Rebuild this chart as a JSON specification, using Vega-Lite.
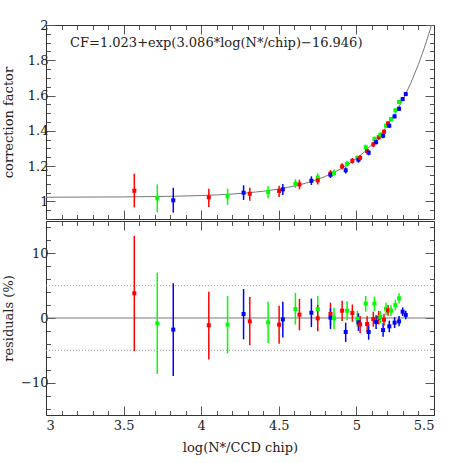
{
  "$schema": "https://vega.github.io/schema/vega-lite/v6.json",
  "padding": {"left": 2, "top": 19, "right": 5, "bottom": 5},
  "config": {
    "view": {"stroke": null},
    "font": "DejaVu Serif",
    "axis": {
      "grid": false,
      "domainColor": "#333",
      "tickColor": "#555",
      "labelFont": "DejaVu Serif",
      "labelFontSize": 13,
      "labelColor": "#222",
      "titleFont": "DejaVu Serif",
      "titleFontSize": 13,
      "titleFontWeight": "normal",
      "titleColor": "#222"
    }
  },
  "datasets": {
    "pts": [
      {"x": 3.569, "c": "r", "cf": 1.060, "cfLo": 0.966, "cfHi": 1.157, "res": 3.81, "resLo": -5.10, "resHi": 12.70},
      {"x": 3.717, "c": "g", "cf": 1.017, "cfLo": 0.938, "cfHi": 1.096, "res": -0.82, "resLo": -8.66, "resHi": 7.00},
      {"x": 3.820, "c": "b", "cf": 1.006, "cfLo": 0.936, "cfHi": 1.077, "res": -1.80, "resLo": -8.97, "resHi": 5.36},
      {"x": 4.049, "c": "r", "cf": 1.023, "cfLo": 0.968, "cfHi": 1.072, "res": -1.13, "resLo": -6.40, "resHi": 4.07},
      {"x": 4.170, "c": "g", "cf": 1.028, "cfLo": 0.981, "cfHi": 1.072, "res": -1.03, "resLo": -5.46, "resHi": 3.40},
      {"x": 4.273, "c": "b", "cf": 1.049, "cfLo": 1.008, "cfHi": 1.091, "res": 0.62, "resLo": -3.30, "resHi": 4.48},
      {"x": 4.313, "c": "r", "cf": 1.043, "cfLo": 1.004, "cfHi": 1.077, "res": -0.52, "resLo": -4.20, "resHi": 3.25},
      {"x": 4.431, "c": "g", "cf": 1.053, "cfLo": 1.017, "cfHi": 1.085, "res": -0.67, "resLo": -3.90, "resHi": 2.50},
      {"x": 4.502, "c": "r", "cf": 1.059, "cfLo": 1.025, "cfHi": 1.089, "res": -1.03, "resLo": -4.00, "resHi": 1.90},
      {"x": 4.526, "c": "b", "cf": 1.068, "cfLo": 1.036, "cfHi": 1.098, "res": -0.21, "resLo": -3.00, "resHi": 2.50},
      {"x": 4.607, "c": "g", "cf": 1.100, "cfLo": 1.076, "cfHi": 1.125, "res": 1.39, "resLo": -1.03, "resHi": 3.87},
      {"x": 4.633, "c": "r", "cf": 1.096, "cfLo": 1.068, "cfHi": 1.123, "res": 0.52, "resLo": -1.90, "resHi": 2.94},
      {"x": 4.710, "c": "b", "cf": 1.117, "cfLo": 1.093, "cfHi": 1.142, "res": 0.82, "resLo": -1.40, "resHi": 3.00},
      {"x": 4.751, "c": "g", "cf": 1.136, "cfLo": 1.111, "cfHi": 1.159, "res": 1.39, "resLo": -0.57, "resHi": 3.40},
      {"x": 4.751, "c": "r", "cf": 1.119, "cfLo": 1.096, "cfHi": 1.142, "res": -0.05, "resLo": -2.06, "resHi": 2.00},
      {"x": 4.833, "c": "r", "cf": 1.157, "cfLo": 1.137, "cfHi": 1.177, "res": 0.62, "resLo": -1.13, "resHi": 2.37},
      {"x": 4.833, "c": "b", "cf": 1.151, "cfLo": 1.133, "cfHi": 1.170, "res": 0.05, "resLo": -1.70, "resHi": 1.50},
      {"x": 4.856, "c": "g", "cf": 1.161, "cfLo": 1.142, "cfHi": 1.180, "res": -0.05, "resLo": -1.75, "resHi": 1.60},
      {"x": 4.908, "c": "r", "cf": 1.198, "cfLo": 1.180, "cfHi": 1.216, "res": 1.13, "resLo": -0.46, "resHi": 2.68},
      {"x": 4.931, "c": "b", "cf": 1.176, "cfLo": 1.158, "cfHi": 1.193, "res": -2.16, "resLo": -3.70, "resHi": -0.72},
      {"x": 4.940, "c": "g", "cf": 1.213, "cfLo": 1.196, "cfHi": 1.230, "res": 1.13, "resLo": -0.36, "resHi": 2.58},
      {"x": 4.974, "c": "r", "cf": 1.230, "cfLo": 1.214, "cfHi": 1.246, "res": 0.77, "resLo": -0.57, "resHi": 2.10},
      {"x": 5.006, "c": "g", "cf": 1.246, "cfLo": 1.230, "cfHi": 1.261, "res": -0.10, "resLo": -1.34, "resHi": 1.13},
      {"x": 5.013, "c": "b", "cf": 1.236, "cfLo": 1.219, "cfHi": 1.253, "res": -0.67, "resLo": -2.00, "resHi": 0.72},
      {"x": 5.024, "c": "r", "cf": 1.247, "cfLo": 1.231, "cfHi": 1.263, "res": -0.98, "resLo": -2.37, "resHi": 0.31},
      {"x": 5.060, "c": "g", "cf": 1.306, "cfLo": 1.290, "cfHi": 1.322, "res": 2.22, "resLo": 0.98, "resHi": 3.40},
      {"x": 5.069, "c": "r", "cf": 1.285, "cfLo": 1.270, "cfHi": 1.300, "res": -0.93, "resLo": -2.20, "resHi": 0.26},
      {"x": 5.079, "c": "b", "cf": 1.276, "cfLo": 1.261, "cfHi": 1.291, "res": -2.16, "resLo": -3.35, "resHi": -0.98},
      {"x": 5.109, "c": "r", "cf": 1.323, "cfLo": 1.308, "cfHi": 1.338, "res": -0.15, "resLo": -1.34, "resHi": 0.98},
      {"x": 5.116, "c": "g", "cf": 1.353, "cfLo": 1.338, "cfHi": 1.368, "res": 2.22, "resLo": 1.08, "resHi": 3.30},
      {"x": 5.127, "c": "b", "cf": 1.336, "cfLo": 1.322, "cfHi": 1.350, "res": -0.62, "resLo": -1.70, "resHi": 0.41},
      {"x": 5.144, "c": "r", "cf": 1.363, "cfLo": 1.349, "cfHi": 1.377, "res": 0.05, "resLo": -0.98, "resHi": 1.08},
      {"x": 5.154, "c": "g", "cf": 1.378, "cfLo": 1.365, "cfHi": 1.391, "res": 0.15, "resLo": -0.82, "resHi": 1.08},
      {"x": 5.172, "c": "b", "cf": 1.372, "cfLo": 1.358, "cfHi": 1.386, "res": -1.86, "resLo": -2.90, "resHi": -0.82},
      {"x": 5.178, "c": "r", "cf": 1.395, "cfLo": 1.382, "cfHi": 1.408, "res": -0.26, "resLo": -1.19, "resHi": 0.67},
      {"x": 5.191, "c": "g", "cf": 1.429, "cfLo": 1.416, "cfHi": 1.442, "res": 1.44, "resLo": 0.52, "resHi": 2.37},
      {"x": 5.204, "c": "r", "cf": 1.442, "cfLo": 1.430, "cfHi": 1.454, "res": 1.19, "resLo": 0.36, "resHi": 2.00},
      {"x": 5.212, "c": "b", "cf": 1.429, "cfLo": 1.417, "cfHi": 1.441, "res": -1.29, "resLo": -2.20, "resHi": -0.41},
      {"x": 5.223, "c": "g", "cf": 1.466, "cfLo": 1.454, "cfHi": 1.478, "res": 1.13, "resLo": 0.31, "resHi": 1.96},
      {"x": 5.246, "c": "b", "cf": 1.482, "cfLo": 1.470, "cfHi": 1.494, "res": -0.72, "resLo": -1.55, "resHi": 0.10},
      {"x": 5.251, "c": "g", "cf": 1.516, "cfLo": 1.504, "cfHi": 1.528, "res": 2.01, "resLo": 1.19, "resHi": 2.84},
      {"x": 5.275, "c": "b", "cf": 1.525, "cfLo": 1.513, "cfHi": 1.537, "res": -0.52, "resLo": -1.29, "resHi": 0.31},
      {"x": 5.275, "c": "g", "cf": 1.563, "cfLo": 1.551, "cfHi": 1.575, "res": 3.04, "resLo": 2.27, "resHi": 3.81},
      {"x": 5.298, "c": "b", "cf": 1.580, "cfLo": 1.569, "cfHi": 1.591, "res": 0.98, "resLo": 0.31, "resHi": 1.65},
      {"x": 5.318, "c": "b", "cf": 1.608, "cfLo": 1.597, "cfHi": 1.619, "res": 0.46, "resLo": -0.21, "resHi": 1.13}
    ],
    "fit": [
      {"x": 3.0, "cf": 1.0235},
      {"x": 3.5, "cf": 1.0251},
      {"x": 3.8, "cf": 1.0284},
      {"x": 4.0, "cf": 1.0330},
      {"x": 4.1, "cf": 1.0367},
      {"x": 4.2, "cf": 1.0416},
      {"x": 4.3, "cf": 1.0483},
      {"x": 4.4, "cf": 1.0575},
      {"x": 4.5, "cf": 1.0699},
      {"x": 4.6, "cf": 1.0869},
      {"x": 4.65, "cf": 1.0976},
      {"x": 4.7, "cf": 1.1100},
      {"x": 4.75, "cf": 1.1245},
      {"x": 4.8, "cf": 1.1415},
      {"x": 4.85, "cf": 1.1612},
      {"x": 4.9, "cf": 1.1843},
      {"x": 4.95, "cf": 1.2112},
      {"x": 5.0, "cf": 1.2426},
      {"x": 5.05, "cf": 1.2792},
      {"x": 5.1, "cf": 1.3220},
      {"x": 5.15, "cf": 1.3719},
      {"x": 5.2, "cf": 1.4300},
      {"x": 5.25, "cf": 1.4980},
      {"x": 5.3, "cf": 1.5772},
      {"x": 5.35, "cf": 1.6697},
      {"x": 5.4, "cf": 1.7775},
      {"x": 5.425, "cf": 1.8381},
      {"x": 5.45, "cf": 1.9035},
      {"x": 5.475, "cf": 1.9740},
      {"x": 5.484, "cf": 2.0003}
    ],
    "ann": [{"x": 3.155, "y": 1.897, "t": "CF=1.023+exp(3.086*log(N*/chip)−16.946)"}],
    "ref0": [{"y": 0}],
    "ref5": [{"y": 5}, {"y": -5}]
  },
  "spacing": 0,
  "vconcat": [
    {
      "width": 388,
      "height": 194,
      "resolve": {"axis": {"x": "independent", "y": "independent"}},
      "layer": [
        {
          "data": {"name": "fit"},
          "mark": {"type": "line", "color": "#777", "strokeWidth": 1, "clip": true},
          "encoding": {
            "x": {"field": "x", "type": "quantitative", "scale": {"domain": [3, 5.5], "nice": false, "zero": false},
              "axis": {"orient": "bottom", "title": null, "labels": false,
                "values": [3,3.1,3.2,3.3,3.4,3.5,3.6,3.7,3.8,3.9,4,4.1,4.2,4.3,4.4,4.5,4.6,4.7,4.8,4.9,5,5.1,5.2,5.3,5.4,5.5],
                "tickSize": {"condition": {"test": "abs(datum.value*2-round(datum.value*2))<0.001", "value": -9}, "value": -4.5}}},
            "y": {"field": "cf", "type": "quantitative", "scale": {"domain": [0.9, 2.0], "nice": false, "zero": false},
              "axis": {"orient": "left", "title": "correction factor", "titleX": -31,
                "values": [0.9,0.95,1,1.05,1.1,1.15,1.2,1.25,1.3,1.35,1.4,1.45,1.5,1.55,1.6,1.65,1.7,1.75,1.8,1.85,1.9,1.95,2],
                "labelExpr": "abs(datum.value*5-round(datum.value*5))<0.001 && datum.value>0.95 ? format(datum.value,'~g') : ''",
                "labelPadding": 7,
                "tickSize": {"condition": {"test": "abs(datum.value*5-round(datum.value*5))<0.001", "value": -9}, "value": -4.5}}}
          }
        },
        {
          "data": {"name": "pts"},
          "mark": {"type": "rule", "strokeWidth": 1.5},
          "encoding": {
            "x": {"field": "x", "type": "quantitative",
              "axis": {"orient": "top", "title": null, "labels": false,
                "values": [3,3.1,3.2,3.3,3.4,3.5,3.6,3.7,3.8,3.9,4,4.1,4.2,4.3,4.4,4.5,4.6,4.7,4.8,4.9,5,5.1,5.2,5.3,5.4,5.5],
                "tickSize": {"condition": {"test": "abs(datum.value*2-round(datum.value*2))<0.001", "value": -9}, "value": -4.5}}},
            "y": {"field": "cfLo", "type": "quantitative",
              "axis": {"orient": "right", "title": null, "labels": false,
                "values": [0.9,0.95,1,1.05,1.1,1.15,1.2,1.25,1.3,1.35,1.4,1.45,1.5,1.55,1.6,1.65,1.7,1.75,1.8,1.85,1.9,1.95,2],
                "tickSize": {"condition": {"test": "abs(datum.value*5-round(datum.value*5))<0.001", "value": -9}, "value": -4.5}}},
            "y2": {"field": "cfHi"},
            "color": {"field": "c", "type": "nominal", "scale": {"domain": ["r", "g", "b"], "range": ["#ff0000", "#00ff00", "#0000ff"]}, "legend": null}
          }
        },
        {
          "data": {"name": "pts"},
          "mark": {"type": "point", "shape": "square", "filled": true, "size": 16, "opacity": 1},
          "encoding": {
            "x": {"field": "x", "type": "quantitative", "axis": null},
            "y": {"field": "cf", "type": "quantitative", "axis": null},
            "color": {"field": "c", "type": "nominal", "scale": {"domain": ["r", "g", "b"], "range": ["#ff0000", "#00ff00", "#0000ff"]}, "legend": null}
          }
        },
        {
          "data": {"name": "ann"},
          "mark": {"type": "text", "align": "left", "baseline": "middle", "font": "DejaVu Serif", "fontSize": 13, "color": "#222"},
          "encoding": {
            "x": {"field": "x", "type": "quantitative", "axis": null},
            "y": {"field": "y", "type": "quantitative", "axis": null},
            "text": {"field": "t"}
          }
        }
      ]
    },
    {
      "width": 388,
      "height": 194,
      "resolve": {"axis": {"x": "independent", "y": "independent"}},
      "layer": [
        {
          "data": {"name": "ref0"},
          "mark": {"type": "rule", "color": "#777", "strokeWidth": 1},
          "encoding": {"y": {"field": "y", "type": "quantitative", "axis": null}}
        },
        {
          "data": {"name": "ref5"},
          "mark": {"type": "rule", "color": "#999", "strokeWidth": 1, "strokeDash": [1, 2]},
          "encoding": {"y": {"field": "y", "type": "quantitative", "axis": null}}
        },
        {
          "data": {"name": "pts"},
          "mark": {"type": "rule", "strokeWidth": 1.5},
          "encoding": {
            "x": {"field": "x", "type": "quantitative", "scale": {"domain": [3, 5.5], "nice": false, "zero": false},
              "axis": {"orient": "bottom", "title": "log(N*/CCD chip)",
                "values": [3,3.1,3.2,3.3,3.4,3.5,3.6,3.7,3.8,3.9,4,4.1,4.2,4.3,4.4,4.5,4.6,4.7,4.8,4.9,5,5.1,5.2,5.3,5.4,5.5],
                "labelExpr": "abs(datum.value*2-round(datum.value*2))<0.001 ? format(datum.value,'~g') : ''",
                "labelPadding": 13,
                "titlePadding": 9,
                "tickSize": {"condition": {"test": "abs(datum.value*2-round(datum.value*2))<0.001", "value": -9}, "value": -4.5}}},
            "y": {"field": "resLo", "type": "quantitative", "scale": {"domain": [-15, 15], "nice": false, "zero": false},
              "axis": {"orient": "left", "title": "residuals (%)", "titleX": -31,
                "values": [-14,-12,-10,-8,-6,-4,-2,0,2,4,6,8,10,12,14],
                "labelExpr": "abs(datum.value/10-round(datum.value/10))<0.001 ? format(datum.value,'~g') : ''",
                "labelPadding": 7,
                "tickSize": {"condition": {"test": "abs(datum.value/10-round(datum.value/10))<0.001", "value": -9}, "value": -4.5}}},
            "y2": {"field": "resHi"},
            "color": {"field": "c", "type": "nominal", "scale": {"domain": ["r", "g", "b"], "range": ["#ff0000", "#00ff00", "#0000ff"]}, "legend": null}
          }
        },
        {
          "data": {"name": "pts"},
          "mark": {"type": "point", "shape": "square", "filled": true, "size": 16, "opacity": 1},
          "encoding": {
            "x": {"field": "x", "type": "quantitative",
              "axis": {"orient": "top", "title": null, "labels": false,
                "values": [3,3.1,3.2,3.3,3.4,3.5,3.6,3.7,3.8,3.9,4,4.1,4.2,4.3,4.4,4.5,4.6,4.7,4.8,4.9,5,5.1,5.2,5.3,5.4,5.5],
                "tickSize": {"condition": {"test": "abs(datum.value*2-round(datum.value*2))<0.001", "value": -9}, "value": -4.5}}},
            "y": {"field": "res", "type": "quantitative",
              "axis": {"orient": "right", "title": null, "labels": false,
                "values": [-14,-12,-10,-8,-6,-4,-2,0,2,4,6,8,10,12,14],
                "tickSize": {"condition": {"test": "abs(datum.value/10-round(datum.value/10))<0.001", "value": -9}, "value": -4.5}}},
            "color": {"field": "c", "type": "nominal", "scale": {"domain": ["r", "g", "b"], "range": ["#ff0000", "#00ff00", "#0000ff"]}, "legend": null}
          }
        }
      ]
    }
  ]
}
